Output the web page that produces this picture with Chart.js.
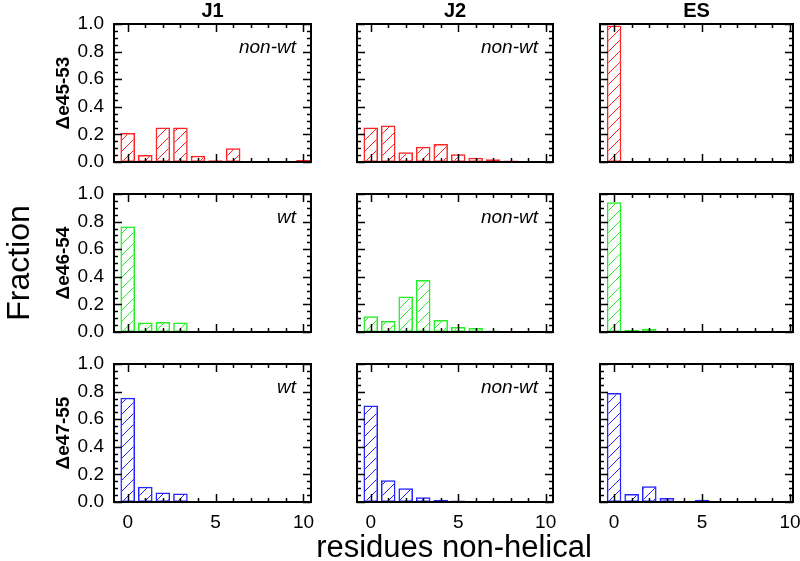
<!DOCTYPE html>
<html><head><meta charset="utf-8">
<script src="https://cdn.jsdelivr.net/npm/chart.js@4.4.0/dist/chart.umd.min.js"></script>
<style>
html,body{margin:0;padding:0;background:#fff;}
#wrap{position:relative;width:800px;height:561px;overflow:hidden;font-family:"Liberation Sans",Arial,sans-serif;}
#wrap canvas{position:absolute;}
.t{position:absolute;white-space:nowrap;color:#000;line-height:1;}
</style></head><body><div id="wrap"></div>
<script>
// ---------- data ----------
const residues = [0,1,2,3,4,5,6,7,8,9,10];
const columnTitles = ['J1','J2','ES'];
const rowLabels = ['\u0394e45-53','\u0394e46-54','\u0394e47-55'];
const panelNotes = [['non-wt','non-wt',''],['wt','non-wt',''],['wt','non-wt','']];
const xTickValues = [0,5,10];
const yTickValues = [0,0.2,0.4,0.6,0.8,1.0];
const xAxisTitle = 'residues non-helical';
const yAxisTitle = 'Fraction';

const e45_J1 = [0.21,0.05,0.25,0.25,0.045,0.012,0.10,0.005,0,0.008,0.015];
const e45_J2 = [0.25,0.265,0.07,0.11,0.13,0.056,0.03,0.02,0.01,0.003,0];
const e45_ES = [0.99,0.005,0,0,0,0,0,0,0,0,0];
const e46_J1 = [0.764,0.068,0.073,0.068,0.002,0.005,0.003,0,0,0,0];
const e46_J2 = [0.114,0.08,0.258,0.376,0.087,0.036,0.029,0.01,0,0,0];
const e46_ES = [0.94,0.017,0.024,0.007,0,0,0,0,0,0,0];
const e47_J1 = [0.755,0.11,0.068,0.061,0.005,0.002,0.002,0,0,0,0];
const e47_J2 = [0.70,0.158,0.10,0.034,0.017,0.01,0,0,0,0,0];
const e47_ES = [0.79,0.058,0.114,0.029,0.005,0.017,0,0,0,0,0];

const grid = [[e45_J1,e45_J2,e45_ES],[e46_J1,e46_J2,e46_ES],[e47_J1,e47_J2,e47_ES]];
const rowColors = ['#ff2424','#26ee26','#2424ff'];

// ---------- layout (styles) ----------
const FONT = '"Liberation Sans", Arial, sans-serif';
const cols = [{left:114,width:197,min:-0.78,max:10.43},{left:357,width:196,min:-0.785,max:10.42},{left:600,width:193,min:-0.8,max:10.17}];
const rows = [{top:24,height:138},{top:194,height:138},{top:364,height:138}];
const L=60,R=16,T=14,B=40;
const wrap=document.getElementById('wrap');

function hatch(color){
  const s=11;const c=document.createElement('canvas');c.width=s;c.height=s;
  const g=c.getContext('2d');g.strokeStyle=color;g.lineWidth=1;
  g.beginPath();g.moveTo(0,s);g.lineTo(s,0);g.moveTo(-1,1);g.lineTo(1,-1);g.moveTo(s-1,s+1);g.lineTo(s+1,s-1);g.stroke();
  return g.createPattern(c,'repeat');
}

const framePlugin={id:'frame',afterDatasetsDraw(chart){
  const {ctx,chartArea:a,scales:{x,y}}=chart;
  ctx.save();ctx.strokeStyle='#000';ctx.lineWidth=1.5;ctx.beginPath();
  residues.forEach(v=>{
    const len = (v%5===0)?8:4; const px=Math.round(x.getPixelForValue(v))+0.5;
    ctx.moveTo(px,a.bottom);ctx.lineTo(px,a.bottom-len);
    ctx.moveTo(px,a.top);ctx.lineTo(px,a.top+len);
  });
  for(let k=0;k<=20;k++){
    const v=k*0.05; const len=(k%4===0)?8:4; const py=Math.round(y.getPixelForValue(v))+0.5;
    ctx.moveTo(a.left,py);ctx.lineTo(a.left+len,py);
    ctx.moveTo(a.right,py);ctx.lineTo(a.right-len,py);
  }
  ctx.stroke();
  ctx.lineWidth=2;ctx.strokeRect(a.left,a.top,a.right-a.left,a.bottom-a.top);
  ctx.restore();
}};
function zeroPad(s){s.paddingLeft=0;s.paddingRight=0;s.paddingTop=0;s.paddingBottom=0;}

rows.forEach((r,ri)=>{
  cols.forEach((c,ci)=>{
    const cv=document.createElement('canvas');
    const w=c.width+L+R,h=r.height+T+B;
    cv.width=w;cv.height=h;cv.style.width=w+'px';cv.style.height=h+'px';
    cv.style.left=(c.left-L)+'px';cv.style.top=(r.top-T)+'px';
    wrap.appendChild(cv);
    const col=rowColors[ri];
    new Chart(cv,{
      type:'bar',
      data:{datasets:[{data:residues.map((x,i)=>({x:x,y:grid[ri][ci][i]})),
        backgroundColor:hatch(col),borderColor:col,borderWidth:1.5,borderSkipped:false,
        barPercentage:0.83,categoryPercentage:1.0}]},
      options:{
        responsive:false,animation:false,devicePixelRatio:1,
        layout:{padding:{top:T,right:R,left:0,bottom:0},autoPadding:false},
        plugins:{legend:{display:false},tooltip:{enabled:false}},
        scales:{
          x:{type:'linear',min:c.min,max:c.max,offset:false,
             grid:{display:false,drawTicks:false},border:{display:false},
             ticks:{display:ri===2,color:'#000',font:{family:FONT,size:19},padding:9,maxRotation:0,autoSkip:false,includeBounds:false},
             afterBuildTicks:s=>{s.ticks=xTickValues.map(v=>({value:v}));},
             afterFit:s=>{s.height=B;zeroPad(s);}},
          y:{type:'linear',min:0,max:1,
             grid:{display:false,drawTicks:false},border:{display:false},
             ticks:{display:ci===0,color:'#000',font:{family:FONT,size:19},padding:10,callback:v=>Number(v).toFixed(1)},
             afterBuildTicks:s=>{s.ticks=yTickValues.map(v=>({value:v}));},
             afterFit:s=>{s.width=L;zeroPad(s);}}
        }
      },
      plugins:[framePlugin]
    });
  });
});

function addText(txt,css){const d=document.createElement('div');d.className='t';d.textContent=txt;Object.assign(d.style,css);wrap.appendChild(d);return d;}
const base=(b,fs)=>(b-0.8465*fs)+'px';
// column titles
cols.forEach((c,i)=>addText(columnTitles[i],{left:(c.left+c.width/2)+'px',top:base(17,20),fontSize:'20px',fontWeight:'bold',transform:'translateX(-50%)'}));
// row labels
rows.forEach((r,i)=>addText(rowLabels[i],{left:'62px',top:(r.top+r.height/2)+'px',fontSize:'19px',fontWeight:'bold',transform:'translate(-50%,-50%) rotate(-90deg)'}));
// panel notes
rows.forEach((r,ri)=>cols.forEach((c,ci)=>{const n=panelNotes[ri][ci];if(n)addText(n,{right:(800-(c.left+c.width-15))+'px',top:base(r.top+29,19),fontSize:'19px',fontStyle:'italic'});}));
// axis titles
addText(yAxisTitle,{left:'18px',top:'263px',fontSize:'32px',transform:'translate(-50%,-50%) rotate(-90deg)'});
addText(xAxisTitle,{left:'454px',top:base(557,31),fontSize:'31px',transform:'translateX(-50%)'});
</script></body></html>
